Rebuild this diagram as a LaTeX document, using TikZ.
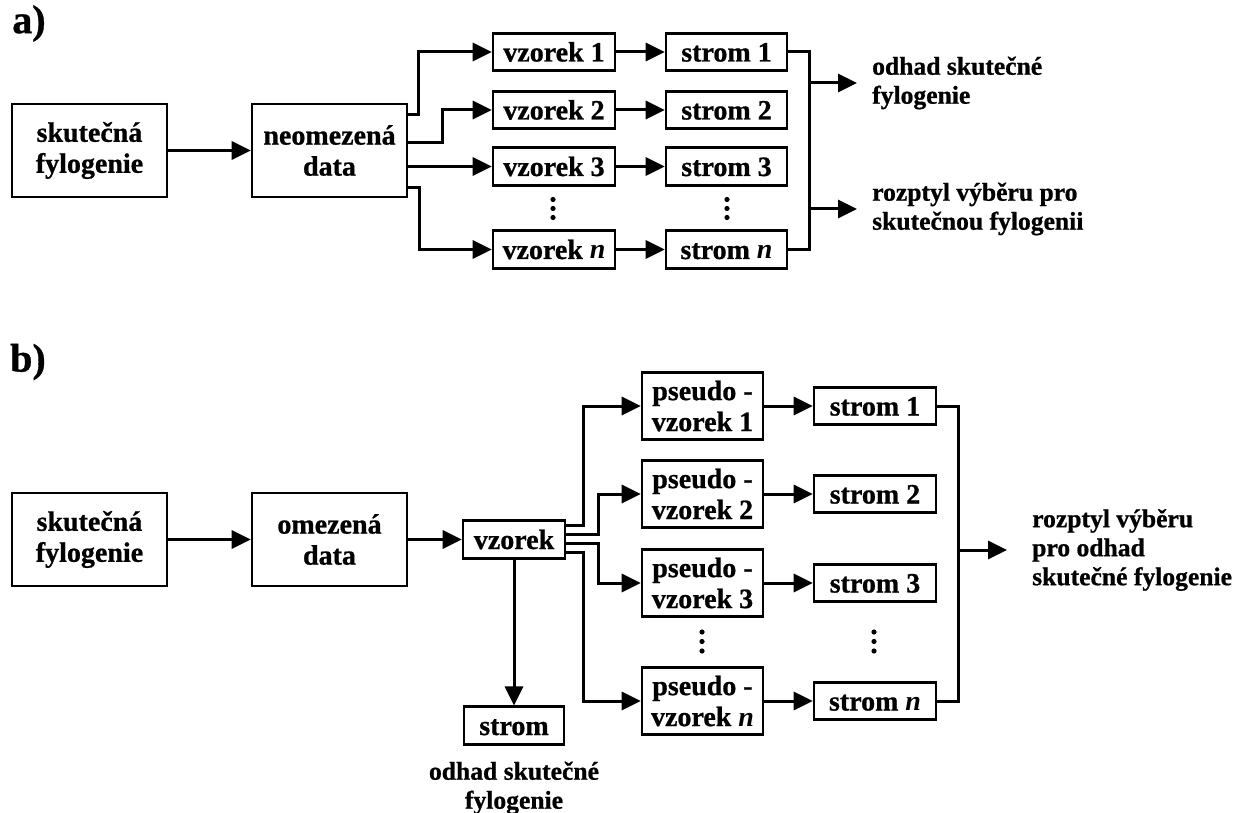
\documentclass[tikz,border=0pt]{standalone}
\usepackage{fontspec}
\setmainfont{Liberation Serif}[BoldFeatures={FakeBold=0.8}]
\usetikzlibrary{arrows.meta}
\newcommand{\fylfont}{\bfseries\fontsize{28}{31}\selectfont}
\newcommand{\fylsmall}{\bfseries\fontsize{25.6}{29}\selectfont}
\tikzset{
  fyl box/.style={draw=black, line width=2.6pt, inner sep=0pt, align=center, font=\fylfont},
  fyl single/.style={fyl box, minimum height=37.5pt, text height=19pt, text depth=0pt},
  fyl line/.style={draw=black, line width=3pt},
  fyl arrow/.style={fyl line, -{Triangle[length=19pt,width=18pt]}},
  fyl text/.style={align=left, font=\fylsmall, inner sep=0pt},
  fyl label/.style={font=\bfseries\fontsize{40}{40}\selectfont, inner sep=0pt},
  fyl dot/.style={fill=black},
}

\begin{document}
\begin{tikzpicture}[x=1pt, y=-1pt]
  \useasboundingbox (0,0) rectangle (1235,813);

  % Panel a: unlimited data
  \node[fyl label] (labA) at (29,23.5) {a)};
  \node[fyl box, minimum width=155pt, minimum height=93pt] (realA) at (89.5,150.5) {skutečná\\fylogenie};
  \node[fyl box, minimum width=155pt, minimum height=93pt] (dataA) at (329.5,150.5) {neomezená\\data};
  \draw[fyl arrow] (realA) -- (dataA);
  \foreach \i/\y/\t in {1/52/1, 2/110/2, 3/166.5/3, n/249.5/{\textit{n}}} {
    \node[fyl single, minimum width=122pt] (vzA\i) at (554,\y) {vzorek \t};
    \node[fyl single, minimum width=121pt] (stA\i) at (726.5,\y) {strom \t};
    \draw[fyl arrow] (vzA\i) -- (stA\i);
  }
  \foreach \y in {199.5,208.5,217.5} {
    \fill[fyl dot] (553,\y) circle (2.6pt);
    \fill[fyl dot] (727,\y) circle (2.6pt);
  }
  \draw[fyl arrow] ([yshift=35.5pt]dataA.east) -- ++(10,0) |- (vzA1.west);
  \draw[fyl arrow] ([yshift=7.5pt]dataA.east) -- ++(34,0) |- (vzA2.west);
  \draw[fyl arrow] (vzA3.west -| dataA.east) -- (vzA3.west);
  \draw[fyl arrow] ([yshift=-37.5pt]dataA.east) -- ++(11,0) |- (vzAn.west);
  % trees meet in one estimate
  \coordinate (colA) at ([xshift=21pt]stA1.east);
  \draw[fyl line] (stA1.east) -- (colA) |- (stAn.east);
  \node[fyl text, anchor=west] (outA1) at (872,83) {odhad skutečné\\fylogenie};
  \node[fyl text, anchor=west] (outA2) at (872,209) {rozptyl výběru pro\\skutečnou fylogenii};
  \draw[fyl arrow] (outA1.west -| colA) -- ([xshift=-15pt]outA1.west);
  \draw[fyl arrow] (outA2.west -| colA) -- ([xshift=-15pt]outA2.west);

  % Panel b: limited data, bootstrap
  \node[fyl label] (labB) at (28,362) {b)};
  \node[fyl box, minimum width=155pt, minimum height=93pt] (realB) at (89.5,539.5) {skutečná\\fylogenie};
  \node[fyl box, minimum width=155pt, minimum height=93pt] (dataB) at (329.5,539.5) {omezená\\data};
  \node[fyl single, minimum width=102pt, minimum height=38pt] (vzB) at (514,539.5) {vzorek};
  \node[fyl single, minimum width=100pt] (stB) at (514,725.5) {strom};
  \node[fyl text, align=center] (outB1) at (514,788) {odhad skutečné\\fylogenie};
  \draw[fyl arrow] (realB) -- (dataB);
  \draw[fyl arrow] (dataB) -- (vzB);
  \draw[fyl arrow] (vzB) -- (stB);
  \foreach \i/\y/\t in {1/406/1, 2/494/2, 3/583/3, n/701/{\textit{n}}} {
    \node[fyl box, minimum width=121pt, minimum height=67pt] (psB\i) at (702.5,\y) {pseudo -\\vzorek \t};
    \node[fyl single, minimum width=122pt] (stB\i) at (875,\y) {strom \t};
    \draw[fyl arrow] (psB\i) -- (stB\i);
  }
  \foreach \y in {632,641.5,651} {
    \fill[fyl dot] (702,\y) circle (2.6pt);
    \fill[fyl dot] (874,\y) circle (2.6pt);
  }
  \draw[fyl arrow] ([yshift=14.5pt]vzB.east) -- ++(17,0) |- (psB1.west);
  \draw[fyl arrow] ([yshift=5.5pt]vzB.east) -- ++(32,0) |- (psB2.west);
  \draw[fyl arrow] ([yshift=-3.5pt]vzB.east) -- ++(32,0) |- (psB3.west);
  \draw[fyl arrow] ([yshift=-12.5pt]vzB.east) -- ++(17,0) |- (psBn.west);
  \coordinate (colB) at ([xshift=21pt]stB1.east);
  \draw[fyl line] (stB1.east) -- (colB) |- (stBn.east);
  \node[fyl text, anchor=west] (outB2) at (1032,550) {rozptyl výběru\\pro odhad\\skutečné fylogenie};
  \draw[fyl arrow] (outB2.west -| colB) -- ([xshift=-25pt]outB2.west);
\end{tikzpicture}
\end{document}
